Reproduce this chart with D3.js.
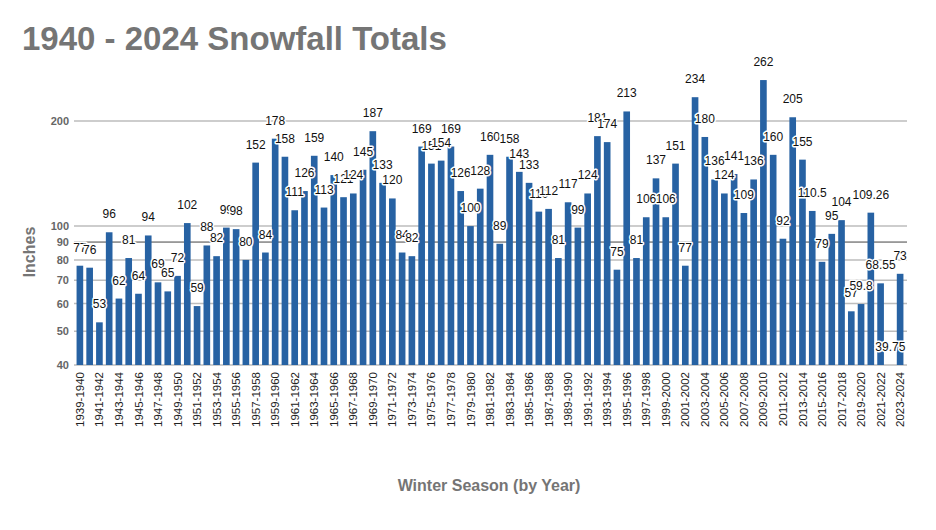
<!DOCTYPE html>
<html>
<head>
<meta charset="utf-8">
<script src="https://cdn.jsdelivr.net/npm/d3@7"></script>
<style>
  body { margin: 0; background: #fff; }
  svg { display: block; font-family: "Liberation Sans", Arial, sans-serif; }
</style>
</head>
<body>
<div id="chart"></div>
<script>
// Seasons, 1939-1940 through 2023-2024
let seasons = d3.range(1939, 2024).map(y => `${y}-${y + 1}`)

// Snowfall totals in inches, one per season
let snowfall = [
  77, 76, 53, 96, 62, 81, 64, 94, 69, 65,
  72, 102, 59, 88, 82, 99, 98, 80, 152, 84,
  178, 158, 111, 126, 159, 113, 140, 121, 124, 145,
  187, 133, 120, 84, 82, 169, 151, 154, 169, 126,
  100, 128, 160, 89, 158, 143, 133, 110, 112, 81,
  117, 99, 124, 181, 174, 75, 213, 81, 106, 137,
  106, 151, 77, 234, 180, 136, 124, 141, 109, 136,
  262, 160, 92, 205, 155, 110.5, 79, 95, 104, 57,
  59.8, 109.26, 68.55, 39.75, 73
]

let yTicks = [40, 50, 60, 70, 80, 90, 100, 200]

let width = 936
let height = 530

let svg = d3.select('#chart').append('svg')
  .attr('width', width)
  .attr('height', height)

// Scales
let x = d3.scaleBand()
  .domain(seasons)
  .range([75, 905])
  .paddingInner(0.32)
  .paddingOuter(0.16)

let y = d3.scaleLog()
  .domain([40, 200])
  .range([365, 121])

// Gridlines (the 90 line is drawn darker in the original)
svg.append('g')
  .selectAll('line')
  .data(yTicks)
  .enter()
  .append('line')
  .attr('x1', 74)
  .attr('x2', 907)
  .attr('y1', d => y(d))
  .attr('y2', d => y(d))
  .attr('stroke', d => d === 90 ? '#444' : '#bdbdbd')
  .attr('stroke-width', d => d === 90 ? 1 : 1.5)

// Y axis labels
let yAxis = svg.append('g')
  .attr('transform', 'translate(69, 0)')
  .call(d3.axisLeft(y).tickValues(yTicks).tickFormat(d3.format('d')).tickSize(0).tickPadding(0))

yAxis.select('.domain').remove()
yAxis.selectAll('text')
  .attr('fill', '#666')
  .style('font-size', '11px')
  .style('font-weight', 'bold')

// Bars, values below the axis floor get no bar
let data = seasons.map((s, i) => ({ season: s, value: snowfall[i] }))

svg.append('g')
  .selectAll('rect')
  .data(data)
  .enter()
  .append('rect')
  .attr('x', d => x(d.season))
  .attr('width', x.bandwidth())
  .attr('y', d => y(Math.max(d.value, 40)))
  .attr('height', d => y(40) - y(Math.max(d.value, 40)))
  .attr('fill', '#2762a3')

// Value labels with a white halo
svg.append('g')
  .selectAll('text')
  .data(data)
  .enter()
  .append('text')
  .attr('x', d => x(d.season) + x.bandwidth() / 2)
  .attr('y', d => y(Math.max(d.value, 40)) - 14)
  .attr('text-anchor', 'middle')
  .style('font-size', '12px')
  .style('paint-order', 'stroke')
  .attr('stroke', '#fff')
  .attr('stroke-width', 3)
  .attr('stroke-linejoin', 'round')
  .attr('fill', '#111')
  .text(d => d.value)

// X axis, every other season labelled
let xAxis = svg.append('g')
  .attr('transform', `translate(0, ${y(40)})`)
  .call(d3.axisBottom(x)
    .tickValues(seasons.filter((s, i) => i % 2 === 0))
    .tickSize(0)
    .tickPadding(0))

xAxis.select('.domain').remove()
xAxis.selectAll('text')
  .attr('transform', 'rotate(-90)')
  .attr('text-anchor', 'end')
  .attr('x', -7)
  .attr('y', 0)
  .attr('dy', '0.35em')
  .attr('fill', '#222')
  .style('font-size', '11.5px')

// Title and axis titles
svg.append('text')
  .attr('x', 22)
  .attr('y', 50)
  .attr('fill', '#757575')
  .style('font-size', '33px')
  .style('font-weight', 'bold')
  .text('1940 - 2024 Snowfall Totals')

svg.append('text')
  .attr('transform', 'translate(35, 252) rotate(-90)')
  .attr('text-anchor', 'middle')
  .attr('fill', '#757575')
  .style('font-size', '16px')
  .style('font-weight', 'bold')
  .text('Inches')

svg.append('text')
  .attr('x', 489)
  .attr('y', 491)
  .attr('text-anchor', 'middle')
  .attr('fill', '#757575')
  .style('font-size', '16px')
  .style('font-weight', 'bold')
  .text('Winter Season (by Year)')
</script>
</body>
</html>
